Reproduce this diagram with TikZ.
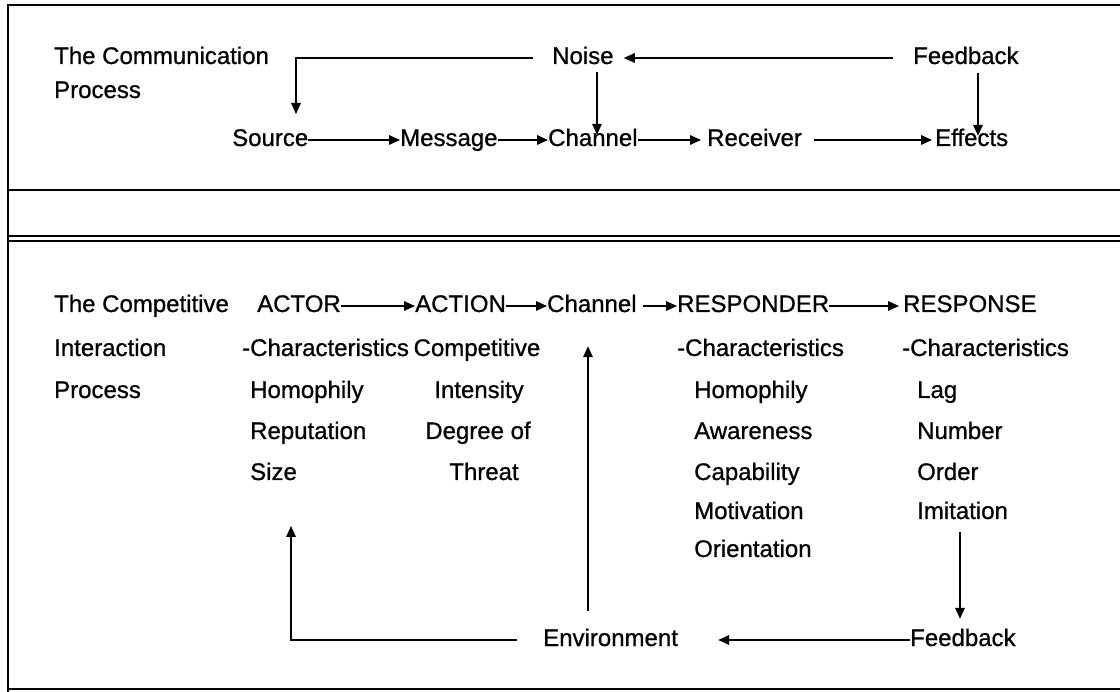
\documentclass[tikz,border=0pt]{standalone}
\usepackage{fontspec}
\setmainfont{Liberation Sans}[BoldFont={Liberation Sans},BoldFeatures={FakeBold=0.8}]
\usetikzlibrary{arrows.meta,calc}
\begin{document}
\begin{tikzpicture}[x=1pt,y=-1pt,
  lbl/.style={inner sep=0pt, anchor=west, font=\fontsize{24}{28}\selectfont\bfseries, text height=17pt, text depth=5pt},
  arr/.style={line width=1.6pt, -{Triangle[length=11pt,width=9.5pt]}},
  frame/.style={line width=2.2pt}]
\useasboundingbox (0,0) rectangle (1120,692);
% frame
\draw[frame] (1120,5) -- (8,5) -- (8,692);
\draw[frame] (8,190) -- (1120,190);
\draw[frame] (8,236) -- (1120,236);
\draw[frame] (8,241) -- (1120,241);
\draw[frame] (8,689) -- (1120,689);
% top section
\node[lbl] (ct1) at (54,58) {The Communication};
\node[lbl] (ct2) at (54,92) {Process};
\node[lbl] (source) at (232,140) {Source};
\node[lbl] (message) at (400,140) {Message};
\node[lbl] (channel) at (548,140) {Channel};
\node[lbl] (receiver) at (707,140) {Receiver};
\node[lbl] (effects) at (935,140) {Effects};
\node[lbl] (noise) at (552,58) {Noise};
\node[lbl] (feedback) at (913,58) {Feedback};
\coordinate (srcin) at (296,114);
\coordinate (nx) at (597,0);
\coordinate (fx) at (978,0);
\draw[arr] (source.east) -- (message.west);
\draw[arr] (message.east) -- (channel.west);
\draw[arr] (channel.east) -- ([xshift=-6pt]receiver.west);
\draw[arr] ([xshift=12pt]receiver.east) -- ([xshift=-3pt]effects.west);
\draw[arr] ([xshift=-20pt]feedback.west) -- ([xshift=10pt]noise.east);
\draw[arr] ([xshift=-19pt]noise.west) -| (srcin);
\draw[arr] ($(noise.south -| nx)+(0,3)$) -- ($(channel.north -| nx)+(0,6)$);
\draw[arr] ($(feedback.south -| fx)+(0,4)$) -- ($(effects.north -| fx)+(0,7)$);
% bottom section
\node[lbl] (it1) at (54,306) {The Competitive};
\node[lbl] (it2) at (54,350) {Interaction};
\node[lbl] (it3) at (54,392) {Process};
\node[lbl] (actor) at (257,306) {ACTOR};
\node[lbl] (action) at (415,306) {ACTION};
\node[lbl] (channelb) at (547,306) {Channel};
\node[lbl] (responder) at (677,306) {RESPONDER};
\node[lbl] (response) at (903,306) {RESPONSE};
\node[lbl] (a1) at (242,350) {-Characteristics};
\node[lbl] (a2) at (250,392) {Homophily};
\node[lbl] (a3) at (250,433) {Reputation};
\node[lbl] (a4) at (250,474) {Size};
\node[lbl,anchor=center] (b1) at (477,350) {Competitive};
\node[lbl,anchor=center] (b2) at (479,392) {Intensity};
\node[lbl,anchor=center] (b3) at (478,433) {Degree of};
\node[lbl,anchor=center] (b4) at (484,474) {Threat};
\node[lbl] (r1) at (677,350) {-Characteristics};
\node[lbl] (r2) at (694,392) {Homophily};
\node[lbl] (r3) at (694,433) {Awareness};
\node[lbl] (r4) at (694,474) {Capability};
\node[lbl] (r5) at (694,513) {Motivation};
\node[lbl] (r6) at (694,551) {Orientation};
\node[lbl] (s1) at (902,350) {-Characteristics};
\node[lbl] (s2) at (917,392) {Lag};
\node[lbl] (s3) at (917,433) {Number};
\node[lbl] (s4) at (917,474) {Order};
\node[lbl] (s5) at (917,513) {Imitation};
\node[lbl] (fb2) at (910,640) {Feedback};
\node[lbl] (env) at (543,640) {Environment};
\coordinate (chx) at (588,0);
\coordinate (imx) at (960,0);
\coordinate (actorin) at (291,526);
\draw[arr] (actor.east) -- (action.west);
\draw[arr] (action.east) -- (channelb.west);
\draw[arr] ([xshift=6pt]channelb.east) -- (responder.west);
\draw[arr] (responder.east) -- ([xshift=-4pt]response.west);
\draw[arr] ($(env.north -| chx)+(0,-18)$) -- ($(channelb.south -| chx)+(0,29)$);
\draw[arr] ($(s5.south -| imx)+(0,8)$) -- ($(fb2.north -| imx)+(0,-10)$);
\draw[arr] (fb2.west) -- ([xshift=40pt]env.east);
\draw[arr] ([xshift=-26pt]env.west) -| (actorin);
\end{tikzpicture}
\end{document}
